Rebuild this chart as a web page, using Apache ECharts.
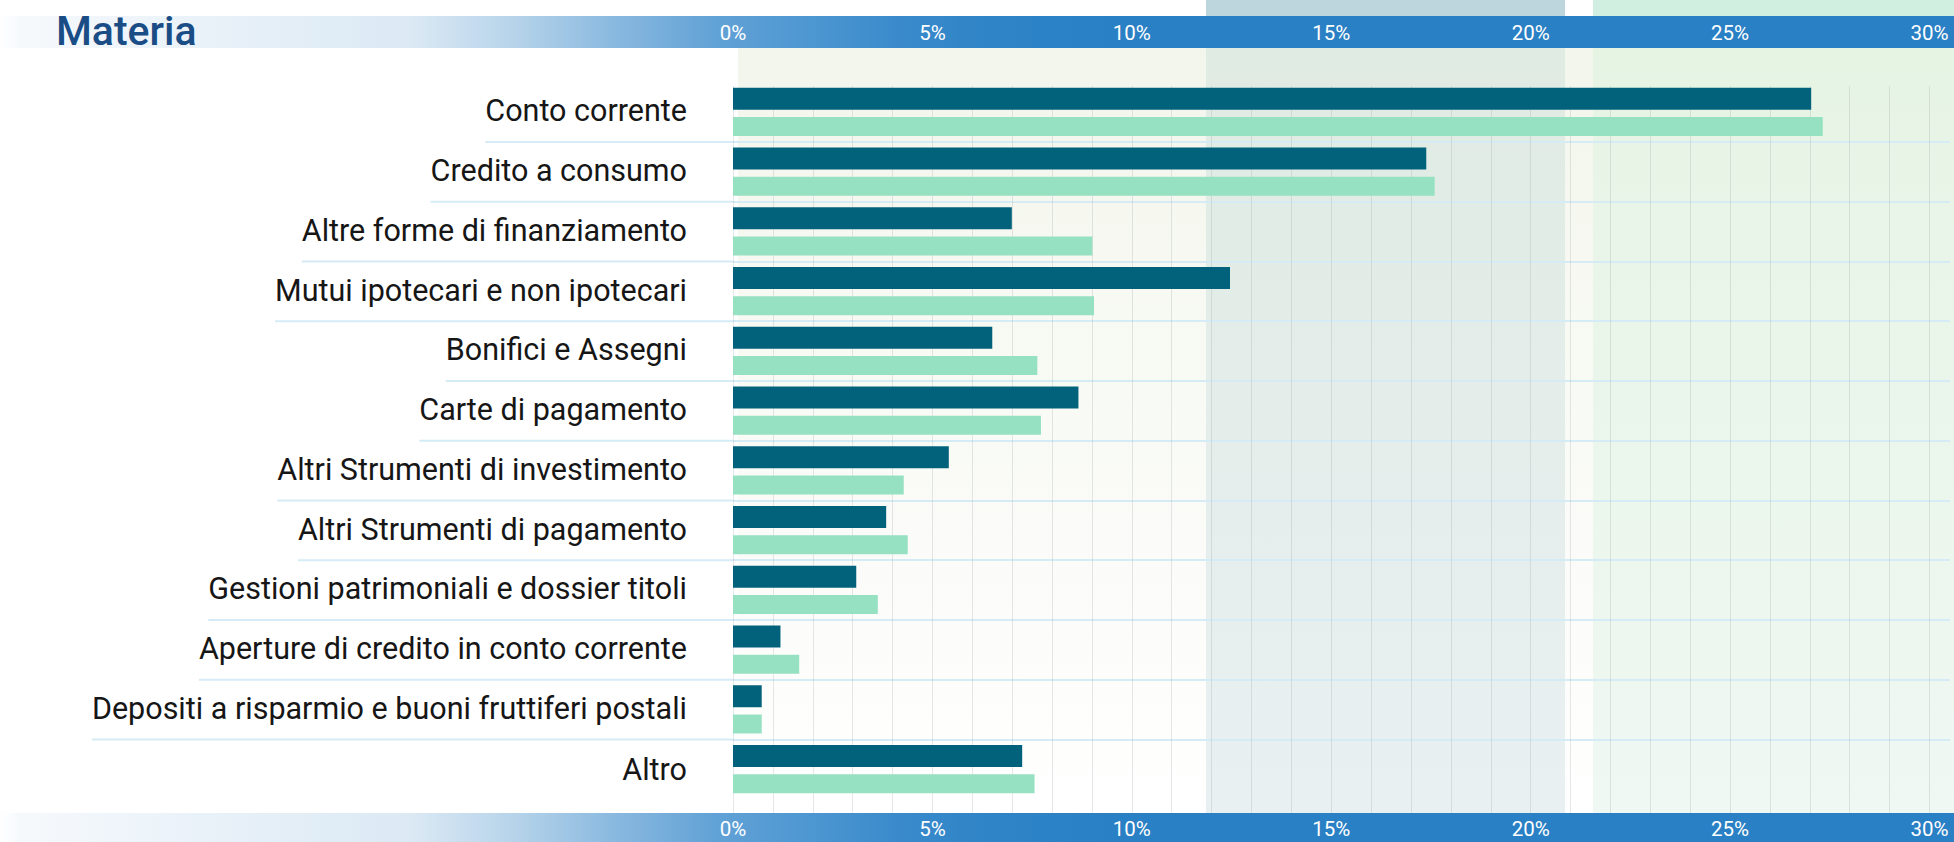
<!DOCTYPE html>
<html><head><meta charset="utf-8">
<script src="https://cdn.jsdelivr.net/npm/echarts@6/dist/echarts.min.js"></script>
<style>html,body{margin:0;padding:0;background:#fff}#c{width:1954px;height:842px}</style>
</head><body><div id="c"></div>
<script>
const titleText = 'Materia';
const categories = [
  'Conto corrente',
  'Credito a consumo',
  'Altre forme di finanziamento',
  'Mutui ipotecari e non ipotecari',
  'Bonifici e Assegni',
  'Carte di pagamento',
  'Altri Strumenti di investimento',
  'Altri Strumenti di pagamento',
  'Gestioni patrimoniali e dossier titoli',
  'Aperture di credito in conto corrente',
  'Depositi a risparmio e buoni fruttiferi postali',
  'Altro'
];
const seriesDark  = [27.03, 17.38, 6.99, 12.46, 6.50, 8.66, 5.41, 3.84, 3.09, 1.19, 0.72, 7.25];
const seriesLight = [27.32, 17.59, 9.01, 9.05, 7.63, 7.72, 4.28, 4.38, 3.63, 1.66, 0.72, 7.56];
const tickLabelSuffix = '%';

const chart = echarts.init(document.getElementById('c'), null, {renderer: 'svg'});

const bandGradient = {
  type: 'linear', x: 0, y: 0, x2: 1, y2: 0,
  colorStops: [
    {offset: 0, color: '#ffffff'},
    {offset: 0.01, color: '#f6f9fc'},
    {offset: 0.10, color: '#eaf2f9'},
    {offset: 0.21, color: '#dbe9f4'},
    {offset: 0.26, color: '#b9d5eb'},
    {offset: 0.31, color: '#8dbbe0'},
    {offset: 0.365, color: '#62a2d6'},
    {offset: 0.41, color: '#4f98d2'},
    {offset: 0.46, color: '#3a8acb'},
    {offset: 0.51, color: '#2e84c7'},
    {offset: 0.57, color: '#2a80c4'},
    {offset: 1, color: '#2a80c4'}
  ]
};
function vgrad(a, b) {
  return {type: 'linear', x: 0, y: 0, x2: 0, y2: 1, colorStops: [{offset: 0, color: a}, {offset: 1, color: b}]};
}

const gridLineStyle = {color: 'rgba(140,150,150,0.22)', width: 1};
const sepColor = '#d5ebf6';
const lastCat = categories[categories.length - 1];

const option = {
  animation: false,
  backgroundColor: '#ffffff',
  textStyle: {fontFamily: 'Roboto'},
  graphic: {elements: [
    {type: 'rect', z: -20, shape: {x: 738, y: 48, width: 1216, height: 765}, style: {fill: vgrad('#f3f6ec', '#ffffff')}},
    {type: 'rect', z: -18, shape: {x: 1206, y: 48, width: 359, height: 765}, style: {fill: vgrad('#e0ebe3', '#e9f0f2')}},
    {type: 'rect', z: -18, shape: {x: 1206, y: 0, width: 359, height: 17}, style: {fill: '#bdd6dd'}},
    {type: 'rect', z: -18, shape: {x: 1593, y: 48, width: 361, height: 765}, style: {fill: vgrad('#e6f4e4', '#eff8f3')}},
    {type: 'rect', z: -18, shape: {x: 1593, y: 0, width: 361, height: 17}, style: {fill: '#d0efe0'}},
    {type: 'rect', z: -10, shape: {x: 0, y: 16, width: 1954, height: 32}, style: {fill: bandGradient}},
    {type: 'rect', z: -10, shape: {x: 0, y: 813, width: 1954, height: 29}, style: {fill: bandGradient}},
    {type: 'text', z: 10, x: 56, y: 31, style: {text: titleText, fill: '#1a4d85', font: '500 41px Roboto', textVerticalAlign: 'middle', verticalAlign: 'middle'}}
  ]},
  grid: [
    {left: 733, right: 4, top: 82, height: 717},
    {left: 733, right: 24.5, top: 86, bottom: 29}
  ],
  xAxis: [
    {gridIndex: 0, type: 'value', min: 0, max: 30.51, show: false},
    {gridIndex: 1, type: 'value', min: 0, max: 30, interval: 5, position: 'bottom',
      axisLine: {show: false}, axisTick: {show: false},
      axisLabel: {show: true, margin: 16, verticalAlign: 'middle', color: '#ffffff', fontSize: 20.5, fontFamily: 'Roboto',
        formatter: v => v + tickLabelSuffix},
      splitLine: {show: true, lineStyle: gridLineStyle},
      minorTick: {show: false, splitNumber: 5},
      minorSplitLine: {show: true, lineStyle: gridLineStyle}
    },
    {gridIndex: 1, type: 'value', min: 0, max: 30, interval: 5, position: 'top',
      axisLine: {show: false}, axisTick: {show: false},
      axisLabel: {show: true, margin: 53, verticalAlign: 'middle', color: '#ffffff', fontSize: 20.5, fontFamily: 'Roboto',
        formatter: v => v + tickLabelSuffix},
      splitLine: {show: false}
    }
  ],
  yAxis: [
    {gridIndex: 0, type: 'category', inverse: true, data: categories,
      axisLine: {show: false}, axisTick: {show: false},
      splitLine: {show: true, showMinLine: false, showMaxLine: false, lineStyle: {color: sepColor, width: 2}},
      axisLabel: {
        interval: 0, margin: 0,
        formatter: v => v === lastCat ? '{t|' + v + '}{sp|}' : '{t|' + v + '}{sp|}\n{ln|}',
        rich: {
          t: {fontSize: 30.5, fontFamily: 'Roboto', color: '#161616', lineHeight: 60, align: 'right'},
          sp: {width: 46, height: 10},
          ln: {width: '100%', height: 2, lineHeight: 2, backgroundColor: sepColor}
        }
      }
    },
    {gridIndex: 1, type: 'value', show: false, min: 0, max: 1}
  ],
  series: [
    {name: 'Serie 1', type: 'bar', xAxisIndex: 0, yAxisIndex: 0, data: seriesDark,
      barWidth: 22, barGap: '33%', itemStyle: {color: '#03627b'}},
    {name: 'Serie 2', type: 'bar', xAxisIndex: 0, yAxisIndex: 0, data: seriesLight,
      barWidth: 19, barGap: '33%', itemStyle: {color: '#96e1c1'}}
  ]
};
chart.setOption(option);
</script>
</body></html>
